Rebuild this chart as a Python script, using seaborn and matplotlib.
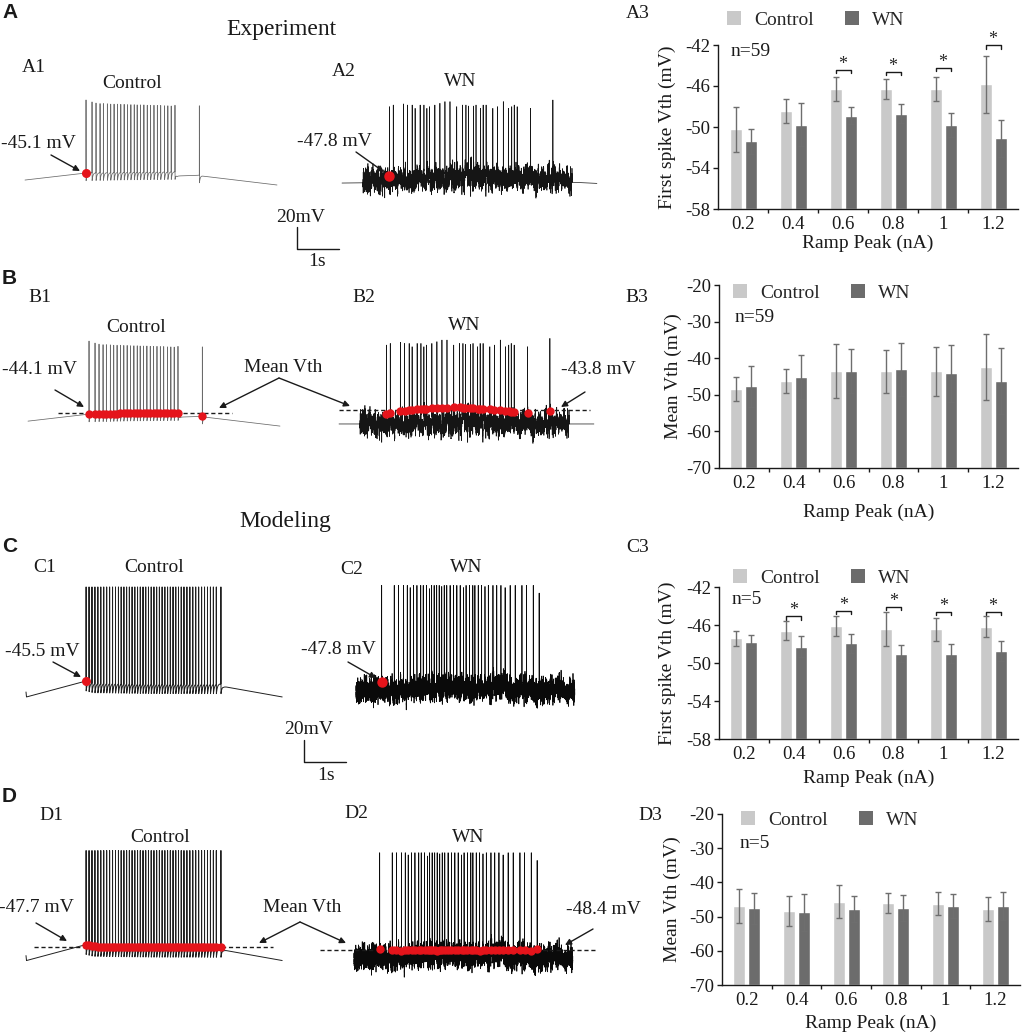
import numpy as np
import pandas as pd
import matplotlib
matplotlib.use("Agg")
import matplotlib.pyplot as plt
import seaborn as sns
from matplotlib.patches import Patch

sns.set_theme(style="ticks")
plt.rcParams["font.family"] = ["Liberation Serif", "DejaVu Serif"]
plt.rcParams["axes.unicode_minus"] = False
plt.rcParams["axes.linewidth"] = 1.0

# ---------------- bar chart data ----------------
ramp_labels = ["0.2", "0.4", "0.6", "0.8", "1", "1.2"]

a3_ctrl = [-50.2, -48.45, -46.3, -46.3, -46.3, -45.85]
a3_ctrl_err = [2.2, 1.15, 1.2, 1.0, 1.2, 2.8]
a3_wn = [-51.4, -49.8, -48.9, -48.7, -49.8, -51.1]
a3_wn_err = [1.2, 2.1, 0.85, 0.95, 1.2, 1.8]
a3_sig = [None, None, -44.4, -44.6, -44.2, -42.0]

b3_ctrl = [-48.5, -46.2, -43.5, -43.6, -43.6, -42.5]
b3_ctrl_err = [3.3, 3.3, 7.5, 5.8, 6.7, 9.0]
b3_wn = [-47.7, -45.2, -43.6, -43.0, -44.1, -46.2]
b3_wn_err = [5.6, 6.0, 6.0, 7.2, 7.8, 9.0]

c3_ctrl = [-47.4, -46.6, -46.1, -46.4, -46.45, -46.2]
c3_ctrl_err = [0.8, 1.0, 1.1, 1.8, 1.2, 1.1]
c3_wn = [-47.75, -48.3, -47.9, -49.0, -49.0, -48.7]
c3_wn_err = [0.7, 1.1, 1.0, 0.85, 1.05, 1.05]
c3_sig = [None, -45.1, -44.5, -44.1, -44.6, -44.6]

d3_ctrl = [-46.9, -48.4, -45.6, -46.0, -46.2, -47.8]
d3_ctrl_err = [4.9, 4.3, 4.7, 2.9, 3.4, 3.6]
d3_wn = [-47.6, -48.8, -47.8, -47.5, -46.9, -46.9]
d3_wn_err = [4.5, 5.3, 3.8, 3.8, 3.6, 4.1]

# ---------------- trace data (s, mV) ----------------
exp_ctrl_spk = [1.452, 1.595, 1.69, 1.786, 1.865, 1.96, 2.04, 2.12, 2.20, 2.28,
                2.36, 2.44, 2.52, 2.60, 2.67, 2.75, 2.83, 2.91, 2.99, 3.07,
                3.15, 3.23, 3.32, 3.40, 3.48, 3.57, 4.15]
exp_ctrl_pk = [21.3, 19.5, 18.5, 18.0, 18.0, 17.8, 17.5, 17.5, 17.5, 17.3,
               17.3, 17.0, 17.0, 17.0, 16.8, 16.8, 16.8, 16.5, 16.5, 16.5,
               16.3, 16.3, 16.0, 16.0, 15.8, 16.5, 16.0]
exp_ctrl_base_t = [0.0, 1.452, 2.5, 3.57, 3.62, 4.10, 4.15, 4.25, 6.0]
exp_ctrl_base_v = [-51.5, -45.1, -44.3, -43.9, -47.8, -47.3, -47.0, -48.0, -56.0]

exp_wn_spk = [1.13, 1.22, 1.46, 1.56, 1.67, 1.74, 1.86, 1.95, 2.02, 2.08,
              2.21, 2.33, 2.45, 2.57, 2.73, 2.87, 2.95, 3.01, 3.13, 3.19,
              3.30, 3.36, 3.43, 3.59, 3.70, 3.84, 3.96, 4.04, 4.10, 4.17,
              4.49, 5.02]
exp_wn_pk = [15.2, 16.7, 17.7, 16.7, 16.7, 13.7, 16.7, 16.7, 13.7, 15.2,
             16.7, 18.3, 19.8, 19.8, 15.2, 16.7, 16.7, 15.8, 15.8, 16.7,
             13.7, 16.7, 16.7, 13.7, 15.2, 19.8, 13.7, 15.2, 16.7, 15.2,
             13.7, 21.3]
exp_wn_vth = [-47.8, -46.5, -45.0, -44.5, -44.0, -43.5, -43.2, -43.0, -42.8, -42.5,
              -42.3, -42.0, -41.8, -41.8, -41.5, -41.5, -41.8, -42.0, -42.0, -42.3,
              -42.5, -42.8, -43.0, -43.3, -43.5, -44.0, -44.5, -45.0, -45.5, -46.0,
              -46.5, -45.0]
exp_wn_noise_on = [0.5, 5.48]
a2_base_t = [0.0, 0.5, 1.0, 3.0, 5.0, 5.48, 6.07]
a2_base_v = [-54.2, -54.0, -51.0, -49.5, -50.5, -53.5, -54.5]
b2_base_t = [0.0, 6.07]
b2_base_v = [-56.5, -56.5]

mod_ctrl_spk = [1.43, 1.50, 1.57, 1.64, 1.71, 1.78, 1.85, 1.92, 1.99, 2.06,
                2.13, 2.20, 2.265, 2.33, 2.395, 2.46, 2.525, 2.59, 2.655, 2.72,
                2.785, 2.85, 2.915, 2.98, 3.045, 3.11, 3.175, 3.24, 3.305, 3.37,
                3.435, 3.50, 3.565, 3.63, 3.695, 3.76, 3.83, 3.90, 3.97, 4.04,
                4.11, 4.18, 4.25, 4.32, 4.39, 4.46, 4.53, 4.64]
mod_ctrl_peak = 40.0
mod_ctrl_base_t = [0.0, 0.012, 1.43, 1.6, 3.0, 4.64, 4.70, 6.1]
mod_ctrl_base_v = [-55.5, -60.0, -45.5, -47.2, -47.9, -48.0, -50.5, -60.0]

mod_wn_spk = [0.61, 0.91, 1.01, 1.13, 1.22, 1.29, 1.37, 1.45, 1.54, 1.60,
              1.68, 1.75, 1.80, 1.86, 1.92, 1.98, 2.04, 2.10, 2.16, 2.24,
              2.32, 2.40, 2.48, 2.56, 2.62, 2.70, 2.78, 2.83, 2.91, 2.99,
              3.07, 3.15, 3.26, 3.35, 3.45, 3.55, 3.67, 3.79, 3.95, 4.06,
              4.22, 4.36]
mod_wn_vth = [-47.8, -48.6, -48.2, -48.9, -48.3, -48.7, -48.1, -48.5, -48.8, -48.2,
              -48.6, -48.4, -48.0, -48.7, -48.3, -48.9, -48.5, -48.1, -48.6, -48.4,
              -48.2, -48.8, -48.3, -48.6, -48.4, -48.1, -48.7, -48.5, -48.3, -48.9,
              -48.2, -48.6, -48.4, -48.8, -48.0, -48.5, -48.7, -48.3, -48.6, -48.2,
              -48.9, -47.9]
mod_wn_pk = [40, 40, 40, 40, 40, 38, 40, 40, 40, 40,
             40, 37, 40, 40, 40, 40, 39, 40, 40, 40,
             40, 40, 40, 38, 40, 40, 40, 40, 40, 40,
             39, 40, 40, 40, 40, 38, 40, 40, 40, 40,
             40, 33]
mod_wn_base_t = [0.0, 1.5, 2.8, 4.3, 5.21]
mod_wn_base_v = [-56.0, -54.0, -52.5, -54.0, -56.0]

mean_vth_b1 = -44.1
mean_vth_b2 = -43.8
mean_vth_d1 = -47.7
mean_vth_d2 = -48.4

# ---------------- helpers ----------------
W, H = 1024, 1034
fig = plt.figure(figsize=(W / 100, H / 100), dpi=100)
PX_S, PX_MV = 42.0, 1.1
DT = 0.0005
rng = np.random.default_rng(11)


def px_rect(l, t, r, b):
    return [l / W, 1 - b / H, (r - l) / W, (b - t) / H]


def trace_ax(x0, y_ref, v_ref, t_lo=-0.2, t_hi=6.3, v_lo=-75.0, v_hi=50.0):
    l = x0 + t_lo * PX_S
    r = x0 + t_hi * PX_S
    top = y_ref - (v_hi - v_ref) * PX_MV
    bot = y_ref + (v_ref - v_lo) * PX_MV
    ax = fig.add_axes(px_rect(l, top, r, bot))
    ax.set_xlim(t_lo, t_hi)
    ax.set_ylim(v_lo, v_hi)
    ax.axis("off")
    ax.patch.set_alpha(0)
    return ax


def texture(n, amp_fast, amp_slow):
    # visual texture of the white-noise driven membrane potential
    f = np.convolve(rng.normal(0, 1, n), np.ones(3) / 3, mode="same") * np.sqrt(3)
    s = np.convolve(rng.normal(0, 1, n), np.ones(30) / 30, mode="same") * np.sqrt(30)
    return amp_fast * f + amp_slow * s


def build(t, base, spikes, peaks, vths, ahp, tau):
    v = base.copy()
    thr = []
    for k, ts in enumerate(spikes):
        i0 = int(round((ts - t[0]) / DT))
        pk = peaks[k] if np.ndim(peaks) else peaks
        if vths is None:
            vth = base[i0]
        else:
            vth = vths[k]
            a = i0 - 6
            v[a:i0 + 1] = np.linspace(v[a], vth, 7)
        thr.append(vth)
        v[i0 + 1] = 0.5 * (vth + pk)
        v[i0 + 2] = pk
        trough = vth - ahp
        j0 = i0 + 6
        orig = v[j0]
        v[i0 + 2:j0 + 1] = np.linspace(pk, trough, j0 - i0 - 1)
        n = int(5 * tau / DT)
        seg = slice(j0 + 1, min(j0 + 1 + n, len(v)))
        v[seg] = v[seg] + (trough - orig) * np.exp(-(t[seg] - t[j0]) / tau)
    return v, np.array(thr)


# experimental control trace
t_ec = np.arange(0, 6.0, DT)
base_ec = np.interp(t_ec, exp_ctrl_base_t, exp_ctrl_base_v)
v_ec, th_ec = build(t_ec, base_ec, exp_ctrl_spk, exp_ctrl_pk, None, 7.0, 0.02)

# experimental WN traces
t_ew = np.arange(0, 6.07, DT)
mask_ew = (t_ew >= exp_wn_noise_on[0]) & (t_ew <= exp_wn_noise_on[1])
noise_ew = texture(len(t_ew), 3.6, 3.4) * mask_ew
v_a2, th_ew = build(t_ew, np.interp(t_ew, a2_base_t, a2_base_v) + noise_ew,
                    exp_wn_spk, exp_wn_pk, exp_wn_vth, 4.0, 0.012)
v_b2, _ = build(t_ew, np.interp(t_ew, b2_base_t, b2_base_v) + noise_ew,
                exp_wn_spk, exp_wn_pk, exp_wn_vth, 4.0, 0.012)

# model control trace
t_mc = np.arange(0, 6.1, DT)
base_mc = np.interp(t_mc, mod_ctrl_base_t, mod_ctrl_base_v)
v_mc, th_mc = build(t_mc, base_mc, mod_ctrl_spk, mod_ctrl_peak, None, 9.0, 0.025)

# model WN trace
t_mw = np.arange(0, 5.21, DT)
noise_mw = texture(len(t_mw), 4.0, 3.6)
v_mw, th_mw = build(t_mw, np.interp(t_mw, mod_wn_base_t, mod_wn_base_v) + noise_mw,
                    mod_wn_spk, mod_wn_pk, mod_wn_vth, 6.0, 0.015)

RED = "#e5141b"
C_EXP = "#6a6a6a"

# ---- A1 / A2
ax = trace_ax(25, 173, -45.1)
ax.plot(t_ec, v_ec, color=C_EXP, lw=0.55)
ax.plot(exp_ctrl_spk[0], th_ec[0], "o", color=RED, ms=5.5, zorder=5)

ax = trace_ax(342, 176, -47.8)
ax.plot(t_ew, v_a2, color="#151515", lw=0.5)
ax.plot(exp_wn_spk[0], th_ew[0], "o", color=RED, ms=6.5, zorder=5)

# ---- B1 / B2
ax = trace_ax(28, 413, mean_vth_b1)
ax.plot(t_ec, v_ec, color=C_EXP, lw=0.55)
ax.hlines(mean_vth_b1, 0.71, 4.86, colors="k", linestyles=(0, (3, 2)), lw=1.0, zorder=4)
ax.plot(exp_ctrl_spk, th_ec, "o", color=RED, ms=5, zorder=5)

ax = trace_ax(339, 410, mean_vth_b2)
ax.plot(t_ew, v_b2, color="#151515", lw=0.5)
ax.hlines(mean_vth_b2, 0.0, 5.98, colors="k", linestyles=(0, (3, 2)), lw=1.0, zorder=4)
ax.plot(exp_wn_spk, th_ew, "o", color=RED, ms=5, zorder=5)

# ---- C1 / C2
ax = trace_ax(26, 681, -45.5)
ax.plot(t_mc, v_mc, color="#202020", lw=0.7)
ax.plot(mod_ctrl_spk[0], th_mc[0], "o", color=RED, ms=5.5, zorder=5)

ax = trace_ax(356, 682, -47.8)
ax.plot(t_mw, v_mw, color="#0a0a0a", lw=0.55)
ax.plot(mod_wn_spk[0], th_mw[0], "o", color=RED, ms=6.5, zorder=5)

# ---- D1 / D2
ax = trace_ax(26, 947, mean_vth_d1)
ax.plot(t_mc, v_mc, color="#202020", lw=0.7)
ax.hlines(mean_vth_d1, 0.19, 5.88, colors="k", linestyles=(0, (3, 2)), lw=1.0, zorder=4)
ax.plot(mod_ctrl_spk, th_mc, "o", color=RED, ms=5, zorder=5)

ax = trace_ax(354, 950, mean_vth_d2, t_lo=-1.0)
ax.plot(t_mw, v_mw, color="#0a0a0a", lw=0.55)
ax.hlines(mean_vth_d2, -0.81, 5.79, colors="k", linestyles=(0, (3, 2)), lw=1.0, zorder=4)
ax.plot(mod_wn_spk, th_mw, "o", color=RED, ms=5, zorder=5)

# ---- scale bars (1 s, 20 mV)
for x0, y0 in [(297, 249), (304, 762)]:
    ax = trace_ax(x0, y0, 0.0, t_lo=-0.1, t_hi=1.1, v_lo=-3, v_hi=23)
    ax.plot([0, 0, 1], [20, 0, 0], color="k", lw=1.0)

# ---------------- bar panels ----------------
C_CTRL, C_WN, C_ERR = "#c9c9c9", "#6c6c6c", "#6e6e6e"
pal = {"Control": C_CTRL, "WN": C_WN}


def bar_panel(box, cm, ce, wm, we, ylim, yticks, ylabel, ylab_px, xlab_px, sig, leg_px):
    l, t, r, b = box
    ax = fig.add_axes(px_rect(l, t, r, b))
    df = pd.DataFrame({"ramp": ramp_labels + ramp_labels,
                       "cond": ["Control"] * 6 + ["WN"] * 6,
                       "v": list(cm) + list(wm)})
    sns.barplot(data=df, x="ramp", y="v", hue="cond", palette=pal, width=0.6, gap=0.2,
                errorbar=None, saturation=1, legend=False, ax=ax)
    bars = sorted(ax.patches, key=lambda p: p.get_x())
    # bars rise from the bottom of the value axis
    for p in bars:
        top = p.get_y() + p.get_height()
        p.set_y(ylim[0])
        p.set_height(top - ylim[0])
    xs = [p.get_x() + p.get_width() / 2 for p in bars]
    vals = [p.get_y() + p.get_height() for p in bars]
    errs = []
    for i in range(6):
        errs += [ce[i], we[i]]
    ax.errorbar(xs, vals, yerr=errs, fmt="none", ecolor=C_ERR, elinewidth=1.0,
                capsize=2.5, capthick=1.0, zorder=3)
    rngy = ylim[1] - ylim[0]
    for i, yb in enumerate(sig or []):
        if yb is None:
            continue
        x0, x1 = xs[2 * i], xs[2 * i + 1]
        leg = rngy * 0.022
        ax.plot([x0, x0, x1, x1], [yb - leg, yb, yb, yb - leg], color="k", lw=1.0, clip_on=False)
        ax.text((x0 + x1) / 2, yb - rngy * 0.02, "*", ha="center", va="bottom", fontsize=13,
                clip_on=False)
    ax.set_xlim(-0.5, 5.5)
    ax.set_ylim(*ylim)
    ax.set_yticks(yticks)
    ax.set_yticklabels([str(v) for v in yticks])
    ax.set_xticks(range(6))
    ax.set_xticklabels(ramp_labels)
    ax.set_xticks([0.5, 1.5, 2.5, 3.5, 4.5], minor=True)
    ax.tick_params(axis="y", direction="out", length=3.5, width=1, pad=2, labelsize=13.5, colors="k")
    ax.tick_params(axis="x", which="major", length=0, pad=5, labelsize=13.5, colors="k")
    ax.tick_params(axis="x", which="minor", length=3, width=1, direction="out", color="k")
    sns.despine(ax=ax)
    for s in ("left", "bottom"):
        ax.spines[s].set_color("k")
        ax.spines[s].set_linewidth(1.0)
    ax.set_ylabel(ylabel, fontsize=14, color="k")
    ax.yaxis.label.set_va("center")
    ax.yaxis.set_label_coords((ylab_px - l) / (r - l), 0.5)
    ax.set_xlabel("Ramp Peak (nA)", fontsize=14, color="k")
    ax.xaxis.label.set_va("center")
    ax.xaxis.set_label_coords(0.5, (b - xlab_px) / (b - t))
    ax.legend(handles=[Patch(facecolor=C_CTRL, edgecolor="none"),
                       Patch(facecolor=C_WN, edgecolor="none")],
              labels=["Control", "WN"], loc="center left",
              bbox_to_anchor=(leg_px[0] / W, 1 - leg_px[1] / H), bbox_transform=fig.transFigure,
              ncol=2, frameon=False, fontsize=14, handlelength=0.7, handleheight=0.7,
              handletextpad=0.7, columnspacing=1.6, borderpad=0, borderaxespad=0)
    return ax


bar_panel((718, 45, 1018, 209), a3_ctrl, a3_ctrl_err, a3_wn, a3_wn_err, (-58, -42),
          [-58, -54, -50, -46, -42], "First spike Vth (mV)", 667, 243, a3_sig, (727, 20))
bar_panel((719, 285, 1018, 468), b3_ctrl, b3_ctrl_err, b3_wn, b3_wn_err, (-70, -20),
          [-70, -60, -50, -40, -30, -20], "Mean Vth (mV)", 673, 512, None, (733, 293))
bar_panel((719, 587, 1018, 739), c3_ctrl, c3_ctrl_err, c3_wn, c3_wn_err, (-58, -42),
          [-58, -54, -50, -46, -42], "First spike Vth (mV)", 667, 778, c3_sig, (733, 578))
bar_panel((722, 814, 1020, 985), d3_ctrl, d3_ctrl_err, d3_wn, d3_wn_err, (-70, -20),
          [-70, -60, -50, -40, -30, -20], "Mean Vth (mV)", 672, 1023, None, (741, 820))

# ---------------- overlay text & arrows (pixel coords) ----------------
ov = fig.add_axes([0, 0, 1, 1])
ov.set_xlim(0, W)
ov.set_ylim(H, 0)
ov.axis("off")
ov.patch.set_alpha(0)


def txt(x, y, s, size=14, **kw):
    ov.text(x, y, s, fontsize=size, ha=kw.pop("ha", "center"), va=kw.pop("va", "center"),
            color="k", **kw)


def arrow(x0, y0, x1, y1):
    ov.annotate("", xy=(x1, y1), xytext=(x0, y0),
                arrowprops=dict(arrowstyle="-|>", color="k", lw=1.0, mutation_scale=9,
                                shrinkA=0, shrinkB=0))


for letter, y in [("A", 13), ("B", 278), ("C", 546), ("D", 796)]:
    ov.text(2, y, letter, fontsize=15, fontweight="bold", family="Liberation Sans",
            ha="left", va="center", color="k")

txt(281, 30, "Experiment", 17)
txt(285, 521, "Modeling", 17)

# row A
txt(34, 68, "A1"); txt(132, 83, "Control")
txt(344, 72, "A2"); txt(460, 82, "WN")
txt(38, 143, "-45.1 mV"); arrow(51, 155, 80, 171)
txt(334, 142, "-47.8 mV"); arrow(356, 152, 384, 172)
txt(301, 217, "20mV"); txt(317, 262, "1s")

# row B
txt(40, 297, "B1"); txt(136, 327, "Control")
txt(364, 297, "B2"); txt(464, 325, "WN")
txt(40, 370, "-44.1 mV"); arrow(55, 390, 84, 407)
txt(283, 368, "Mean Vth")
arrow(279, 378, 219, 408); arrow(279, 378, 350, 406)
txt(598, 370, "-43.8 mV"); arrow(585, 392, 561, 407)

# row C
txt(45, 567, "C1"); txt(154, 567, "Control")
txt(352, 570, "C2"); txt(466, 567, "WN")
txt(42, 652, "-45.5 mV"); arrow(53, 662, 81, 677)
txt(338, 650, "-47.8 mV"); arrow(348, 662, 376, 678)
txt(309, 730, "20mV"); txt(326, 775, "1s")

# row D
txt(51, 815, "D1"); txt(160, 837, "Control")
txt(356, 813, "D2"); txt(468, 837, "WN")
txt(36, 908, "-47.7 mV"); arrow(36, 923, 67, 941)
txt(302, 908, "Mean Vth")
arrow(300, 922, 259, 943); arrow(300, 922, 346, 943)
txt(603, 910, "-48.4 mV"); arrow(593, 929, 565, 945)

# bar panel tags and n labels
txt(638, 13, "A3"); txt(731, 51, "n=59", ha="left")
txt(637, 298, "B3"); txt(735, 318, "n=59", ha="left")
txt(638, 547, "C3"); txt(732, 600, "n=5", ha="left")
txt(650, 815, "D3"); txt(740, 843, "n=5", ha="left")

fig.savefig("out.png", dpi=100)
